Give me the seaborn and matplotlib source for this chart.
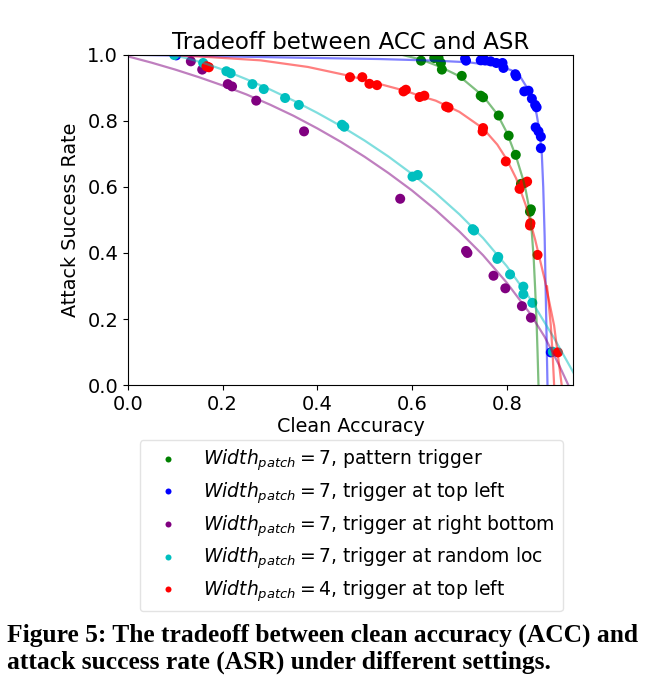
import numpy as np
import pandas as pd
import matplotlib
matplotlib.use("Agg")
import matplotlib.pyplot as plt
import seaborn as sns

# --- labels ---
LBL_GREEN = r'$Width_{patch}=7$, pattern trigger'
LBL_BLUE = r'$Width_{patch}=7$, trigger at top left'
LBL_PURPLE = r'$Width_{patch}=7$, trigger at right bottom'
LBL_CYAN = r'$Width_{patch}=7$, trigger at random loc'
LBL_RED = r'$Width_{patch}=4$, trigger at top left'

# --- measured points (clean accuracy, attack success rate) ---
green_acc = [0.619, 0.647, 0.656, 0.661, 0.663, 0.705, 0.745, 0.750, 0.783, 0.804, 0.819, 0.830, 0.849, 0.851]
green_asr = [0.982, 0.990, 0.990, 0.975, 0.955, 0.936, 0.876, 0.871, 0.816, 0.755, 0.697, 0.609, 0.525, 0.532]

blue_acc = [0.102, 0.712, 0.714, 0.745, 0.754, 0.766, 0.778, 0.791, 0.793, 0.818, 0.820,
            0.837, 0.846, 0.853, 0.860, 0.863, 0.861, 0.867, 0.872, 0.872, 0.893]
blue_asr = [0.998, 0.988, 0.982, 0.983, 0.983, 0.980, 0.975, 0.975, 0.960, 0.941, 0.935,
            0.889, 0.891, 0.867, 0.848, 0.841, 0.780, 0.768, 0.752, 0.717, 0.099]

purple_acc = [0.133, 0.157, 0.211, 0.220, 0.271, 0.372, 0.575, 0.714, 0.717, 0.772, 0.797, 0.832, 0.851]
purple_asr = [0.980, 0.955, 0.911, 0.904, 0.861, 0.768, 0.564, 0.406, 0.400, 0.331, 0.293, 0.239, 0.204]

cyan_acc = [0.098, 0.159, 0.208, 0.217, 0.263, 0.287, 0.332, 0.361, 0.452, 0.457, 0.601,
            0.612, 0.728, 0.731, 0.780, 0.782, 0.807, 0.835, 0.835, 0.854, 0.897]
cyan_asr = [0.999, 0.975, 0.950, 0.944, 0.911, 0.896, 0.869, 0.848, 0.788, 0.782, 0.631,
            0.636, 0.472, 0.468, 0.382, 0.388, 0.335, 0.298, 0.275, 0.249, 0.101]

red_acc = [0.166, 0.171, 0.469, 0.495, 0.510, 0.526, 0.582, 0.587, 0.616, 0.626, 0.672,
           0.677, 0.750, 0.749, 0.798, 0.843, 0.837, 0.827, 0.849, 0.850, 0.865, 0.908]
red_asr = [0.965, 0.962, 0.932, 0.932, 0.912, 0.908, 0.889, 0.894, 0.872, 0.876, 0.843,
           0.840, 0.778, 0.768, 0.677, 0.616, 0.611, 0.594, 0.483, 0.490, 0.394, 0.099]

# --- fitted tradeoff curves ---
green_fit_acc = [0.578, 0.62, 0.66, 0.70, 0.75, 0.78, 0.80, 0.82, 0.835, 0.84, 0.848, 0.853, 0.857, 0.860, 0.863, 0.865, 0.867]
green_fit_asr = [1.0, 0.985, 0.963, 0.935, 0.875, 0.82, 0.765, 0.69, 0.62, 0.59, 0.53, 0.46, 0.38, 0.29, 0.19, 0.10, 0.0]

blue_fit_acc = [0.0, 0.2, 0.4, 0.53, 0.65, 0.72, 0.78, 0.81, 0.83, 0.845, 0.855, 0.863, 0.869, 0.874,
                0.877, 0.880, 0.882, 0.884, 0.886]
blue_fit_asr = [1.0, 0.995, 0.99, 0.987, 0.982, 0.977, 0.966, 0.953, 0.93, 0.895, 0.86, 0.82, 0.77, 0.70,
                0.60, 0.45, 0.30, 0.15, 0.0]

purple_fit_acc = [0.0, 0.05, 0.10, 0.15, 0.20, 0.25, 0.30, 0.35, 0.40, 0.45, 0.50, 0.55, 0.60, 0.65,
                  0.70, 0.75, 0.80, 0.85, 0.88, 0.91, 0.93]
purple_fit_asr = [0.995, 0.976, 0.955, 0.932, 0.907, 0.880, 0.849, 0.815, 0.777, 0.736, 0.691, 0.642,
                  0.589, 0.530, 0.465, 0.393, 0.310, 0.215, 0.146, 0.062, 0.0]

cyan_fit_acc = [0.04, 0.08, 0.12, 0.16, 0.20, 0.25, 0.30, 0.35, 0.40, 0.45, 0.50, 0.55, 0.60, 0.65,
                0.70, 0.75, 0.80, 0.85, 0.90, 0.945]
cyan_fit_asr = [1.009, 1.003, 0.991, 0.975, 0.955, 0.926, 0.895, 0.861, 0.824, 0.784, 0.740, 0.692,
                0.639, 0.581, 0.517, 0.445, 0.360, 0.260, 0.142, 0.027]

red_fit_acc = [0.08, 0.17, 0.28, 0.38, 0.468, 0.53, 0.59, 0.615, 0.65, 0.70, 0.75, 0.78, 0.80, 0.82,
               0.84, 0.86, 0.88, 0.90, 0.916]
red_fit_asr = [1.0, 0.993, 0.983, 0.963, 0.936, 0.912, 0.889, 0.876, 0.861, 0.827, 0.777, 0.728,
               0.683, 0.625, 0.545, 0.44, 0.32, 0.18, 0.0]
# second red branch near the x-axis
red_tail_acc = [0.885, 0.893, 0.897, 0.900]
red_tail_asr = [0.30, 0.18, 0.09, 0.0]

order = [LBL_GREEN, LBL_BLUE, LBL_PURPLE, LBL_CYAN, LBL_RED]
colors = {LBL_GREEN: '#008000', LBL_BLUE: '#0000ff', LBL_PURPLE: '#800080',
          LBL_CYAN: '#00bfbf', LBL_RED: '#ff0000'}


def frame(label, xs, ys):
    return pd.DataFrame({'acc': xs, 'asr': ys, 'setting': label})


points = pd.concat([
    frame(LBL_GREEN, green_acc, green_asr),
    frame(LBL_BLUE, blue_acc, blue_asr),
    frame(LBL_PURPLE, purple_acc, purple_asr),
    frame(LBL_CYAN, cyan_acc, cyan_asr),
    frame(LBL_RED, red_acc, red_asr),
], ignore_index=True)

fits = pd.concat([
    frame(LBL_GREEN, green_fit_acc, green_fit_asr),
    frame(LBL_BLUE, blue_fit_acc, blue_fit_asr),
    frame(LBL_PURPLE, purple_fit_acc, purple_fit_asr),
    frame(LBL_CYAN, cyan_fit_acc, cyan_fit_asr),
    frame(LBL_RED, red_fit_acc, red_fit_asr),
], ignore_index=True)
tail = frame(LBL_RED, red_tail_acc, red_tail_asr)

sns.set_theme(style='ticks')
plt.rcParams['font.family'] = ['DejaVu Sans']
plt.rcParams['axes.edgecolor'] = 'black'
plt.rcParams['xtick.color'] = 'black'
plt.rcParams['ytick.color'] = 'black'
plt.rcParams['text.color'] = 'black'
plt.rcParams['axes.labelcolor'] = 'black'

fig = plt.figure(figsize=(6.49, 6.84), dpi=100)
ax = fig.add_axes([0.197, 0.437, 0.686, 0.483])

sns.lineplot(data=fits, x='acc', y='asr', hue='setting', hue_order=order, palette=colors,
             sort=False, estimator=None, alpha=0.5, linewidth=1.6, legend=False, ax=ax)
sns.lineplot(data=tail, x='acc', y='asr', color=colors[LBL_RED], sort=False, estimator=None,
             alpha=0.5, linewidth=1.6, legend=False, ax=ax)
sns.scatterplot(data=points, x='acc', y='asr', hue='setting', hue_order=order, palette=colors,
                s=52, edgecolor='none', ax=ax)

ax.set_xlim(0, 0.94)
ax.set_ylim(0, 1.0)
ax.set_xticks([0.0, 0.2, 0.4, 0.6, 0.8])
ax.set_yticks([0.0, 0.2, 0.4, 0.6, 0.8, 1.0])
ax.tick_params(labelsize=14, length=3.5, width=0.8)
for sp in ax.spines.values():
    sp.set_linewidth(0.8)
ax.set_title('Tradeoff between ACC and ASR', fontsize=16.5, pad=4)
ax.set_xlabel('Clean Accuracy', fontsize=13.8, labelpad=2)
ax.set_ylabel('Attack Success Rate', fontsize=13.8, labelpad=5)

leg = ax.legend(loc='upper center', bbox_to_anchor=(0.541, 0.356), bbox_transform=fig.transFigure,
                fontsize=13.5, markerscale=0.6, frameon=True, handlelength=2.2, handletextpad=0.8,
                labelspacing=0.38, borderpad=0.4, borderaxespad=0)
leg.get_frame().set_edgecolor('#dddddd')

fig.text(0.011, 0.0615, 'Figure 5: The tradeoff between clean accuracy (ACC) and',
         family='Liberation Serif', weight='bold', fontsize=18.4, va='baseline')
fig.text(0.011, 0.023, 'attack success rate (ASR) under different settings.',
         family='Liberation Serif', weight='bold', fontsize=18.4, va='baseline')

fig.savefig('out.png', dpi=100)
